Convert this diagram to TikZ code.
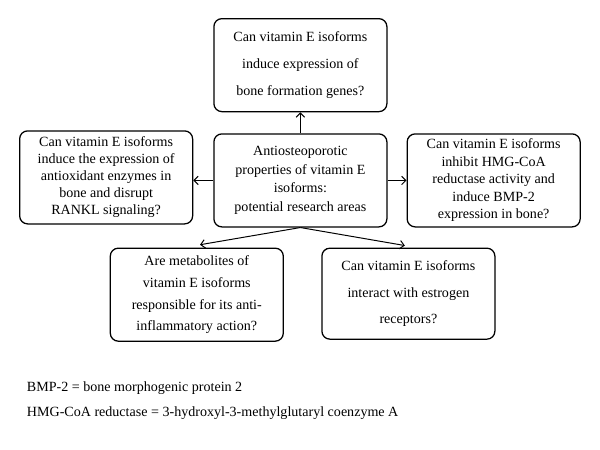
\documentclass[tikz,border=0pt]{standalone}
\usepackage{fontspec}
\setmainfont{Liberation Serif}
\usepackage{tikz}
\usetikzlibrary{arrows.meta,positioning}

\begin{document}
\begin{tikzpicture}
	\useasboundingbox (0,0) rectangle (15,-11.25);
	\begin{scope}[every node/.style={draw,rounded corners=0.2cm,line width=0.9pt,align=center,inner sep=0pt,minimum width=4.325cm,minimum height=2.325cm}]
		\node[font=\fontsize{10}{13.2}\selectfont] (c) at (7.51,-4.51) {Antiosteoporotic\\properties of vitamin E\\isoforms:\\potential research areas};
		\node[above =0.525cm of c,font=\fontsize{10}{19}\selectfont] (t) {Can vitamin E isoforms\\induce expression of\\bone formation genes?};
		\node[left =0.5cm of c,yshift=0.075cm,font=\fontsize{10}{12.1}\selectfont] (l) {Can vitamin E isoforms\\induce the expression of\\antioxidant enzymes in\\bone and disrupt\\RANKL signaling?};
		\node[right =0.475cm of c,font=\fontsize{10}{12.4}\selectfont] (r) {Can vitamin E isoforms\\inhibit HMG-CoA\\reductase activity and\\induce BMP-2\\expression in bone?};
		\node[below =0.5cm of c,xshift=-2.59cm,font=\fontsize{10}{15.6}\selectfont] (bl) {Are metabolites of\\vitamin E isoforms\\responsible for its anti-\\inflammatory action?};
		\node[below =0.5cm of c,xshift=2.7cm,minimum height=2.275cm,font=\fontsize{10}{18.8}\selectfont] (br) {Can vitamin E isoforms\\interact with estrogen\\receptors?};
	\end{scope}
	\begin{scope}[every node/.style={anchor=west,font=\fontsize{10}{12}\selectfont}]
		\node (bmp) at (0.55,-9.7) {BMP-2 = bone morphogenic protein 2};
		\node (hmg) at (0.55,-10.33) {HMG-CoA reductase = 3-hydroxyl-3-methylglutaryl coenzyme A};
	\end{scope}
	\begin{scope}[line width=0.7pt,-{Straight Barb[length=3pt,width=6pt]}]
		\draw (c) -- (t);
		\draw (c.west) -- (c.west -| l.east);
		\draw (c.east) -- (c.east -| r.west);
		\draw (c.south) -- ([xshift=0.08cm,yshift=0.07cm]bl.north);
		\draw (c.south) -- ([xshift=-0.09cm,yshift=0.05cm]br.north);
	\end{scope}
\end{tikzpicture}
\end{document}
